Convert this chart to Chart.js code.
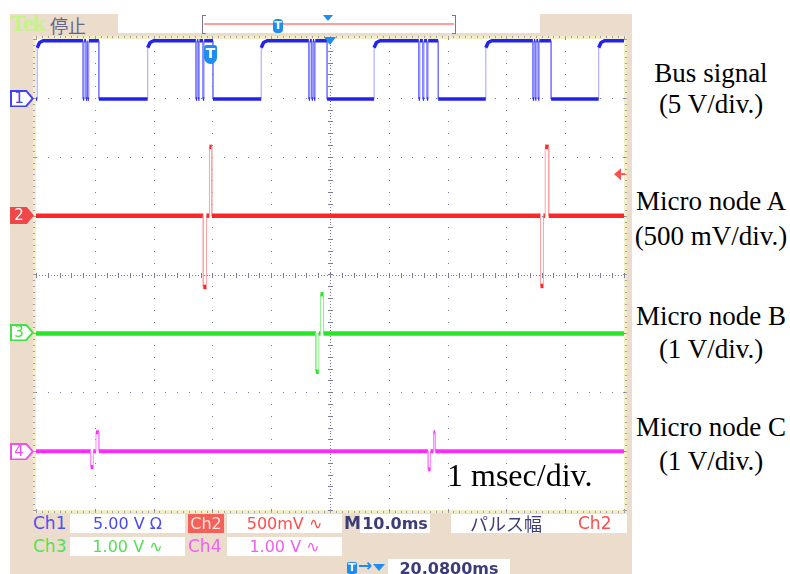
<!DOCTYPE html>
<html>
<head>
<meta charset="utf-8">
<script src="https://cdn.jsdelivr.net/npm/chart.js@4.4.1/dist/chart.umd.min.js"></script>
<style>
  body { margin: 0; width: 790px; height: 574px; background: #fff; position: relative; overflow: hidden; font-family: "DejaVu Sans", sans-serif; }
  .abs { position: absolute; }
  #frame { left: 10px; top: 14px; width: 622px; height: 560px; background: #ecdccb; }
  #tek { left: 10px; top: 10px; font: bold 24px "Liberation Serif", serif; color: #c4f28c; letter-spacing: -1px; }
  #stop { left: 50px; top: 12px; font: 18px "Noto Sans CJK JP", sans-serif; color: #66668a; }
  #topbox { left: 118px; top: 14px; width: 422px; height: 19px; background: #fff; }
  .br { top: 15px; width: 3px; height: 17px; border: 1px solid #77778a; }
  #brL { left: 202px; border-right: none; }
  #brR { left: 452px; border-left: none; }
  #trigLine { left: 204px; top: 23px; width: 250px; height: 2px; background: #ff9c9c; }
  .tmark { background: #1e8cf0; color: #fff; font: bold 11px "DejaVu Sans", sans-serif; text-align: center; }
  .tri { width: 0; height: 0; border-left: 5px solid transparent; border-right: 5px solid transparent; border-top: 6px solid #1e8cf0; }
  #scope { left: 33px; top: 36px; background: #fff; }
  .chm { position: absolute; left: 10px; width: 24px; height: 17px; clip-path: polygon(0 0, 70% 0, 100% 50%, 70% 100%, 0 100%); }
  .chm .in { position: absolute; left: 1.5px; top: 1.5px; width: 20px; height: 14px; background: #fff; clip-path: polygon(0 0, 70% 0, 100% 50%, 70% 100%, 0 100%); }
  .chm span { position: absolute; left: 0; top: 0; width: 18px; text-align: center; font: 15px/17px "DejaVu Sans", sans-serif; }
  .box { position: absolute; background: #fff; height: 19px; font: 16px/19px "DejaVu Sans", sans-serif; text-align: center; }
  .lab { position: absolute; font: 17px/19px "DejaVu Sans", sans-serif; }
  .note { position: absolute; left: 632px; width: 158px; text-align: center; font: 27px/30px "Liberation Serif", serif; color: #000; white-space: nowrap; }
</style>
</head>
<body>
<div id="frame" class="abs"></div>
<div id="tek" class="abs">Tek</div>
<div id="stop" class="abs">停止</div>
<div id="topbox" class="abs"></div>
<div id="brL" class="abs br"></div>
<div id="brR" class="abs br"></div>
<div id="trigLine" class="abs"></div>
<div class="abs tmark" style="left:273px;top:19px;width:10px;height:14px;line-height:14px;border-radius:4px;">T</div>
<div class="abs tri" style="left:323px;top:15px;"></div>

<canvas id="scope" class="abs" width="594" height="477"></canvas>
<div class="abs tmark" style="left:204px;top:45px;width:13px;height:19px;line-height:17px;font-size:14px;border-radius:3px 3px 7px 7px;">T</div>

<div class="chm" style="top:90px;background:#4040f0;"><div class="in"></div><span style="color:#4040f0;">1</span></div>
<div class="chm" style="top:207px;background:#f04848;"><span style="color:#fff;">2</span></div>
<div class="chm" style="top:324px;background:#44e044;"><div class="in"></div><span style="color:#44e044;">3</span></div>
<div class="chm" style="top:443px;background:#f050f0;"><div class="in"></div><span style="color:#f050f0;">4</span></div>

<div class="lab" style="left:33px;top:514px;color:#5050f0;">Ch1</div>
<div class="box" style="left:70px;top:514px;width:115px;color:#4a4af0;">5.00 V Ω</div>
<div class="box" style="left:188px;top:514px;width:36px;background:#f2625a;color:#ffe0da;">Ch2</div>
<div class="box" style="left:227px;top:514px;width:115px;color:#ff4c4c;">500mV ∿</div>
<div class="lab" style="left:344px;top:514px;color:#3c3c78;font-weight:bold;">M</div>
<div class="box" style="left:360px;top:514px;width:70px;color:#3c3c78;font-weight:bold;">10.0ms</div>
<div class="box" style="left:451px;top:514px;width:176px;"></div>
<div class="lab" style="left:470px;top:513px;color:#3c3c78;font:18px/20px 'Noto Sans CJK JP',sans-serif;">パルス幅</div>
<div class="lab" style="left:578px;top:514px;color:#ff4c4c;">Ch2</div>

<div class="lab" style="left:33px;top:537px;color:#55e055;">Ch3</div>
<div class="box" style="left:70px;top:537px;width:115px;color:#55e055;">1.00 V ∿</div>
<div class="lab" style="left:188px;top:537px;color:#f060f0;">Ch4</div>
<div class="box" style="left:227px;top:537px;width:115px;color:#f060f0;">1.00 V ∿</div>

<div class="abs tmark" style="left:347px;top:562px;width:10px;height:12px;line-height:12px;border-radius:2px;">T</div>
<div class="lab" style="left:358px;top:556px;color:#1e8cf0;font-weight:bold;">→</div>
<div class="abs tri" style="left:373px;top:564px;border-left-width:6px;border-right-width:6px;border-top-width:7px;"></div>
<div class="box" style="left:388px;top:559px;width:122px;height:15px;color:#3c3c78;font-weight:bold;">20.0800ms</div>

<div class="note" style="top:58px;">Bus signal</div>
<div class="note" style="top:89px;">(5 V/div.)</div>
<div class="note" style="top:186px;">Micro node A</div>
<div class="note" style="top:221px;">(500 mV/div.)</div>
<div class="note" style="top:301px;">Micro node B</div>
<div class="note" style="top:334px;">(1 V/div.)</div>
<div class="note" style="top:412px;">Micro node C</div>
<div class="note" style="top:446px;">(1 V/div.)</div>
<div class="abs" style="left:447px;top:458px;font:32px/34px 'Liberation Serif',serif;color:#000;white-space:nowrap;">1 msec/div.</div>

<script>
// time base 1 ms/div over 10 div, screen 8 div high
const xMin = 0, xMax = 10;
const yMin = -4, yMax = 4;

// channel settings: units per div and ground position in div
const chScale = [5, 500, 1, 1];   // V, mV, V, V
const chPos = [3, 1, -1, -3];

// Ch1 bus signal: edge times (ms) and levels (V)
const busRise = [0.02, 1.90, 3.83, 5.75, 7.65, 9.57];
const busFall = [1.07, 3.01, 4.95, 6.84, 8.76];
const busGlitch = [
  [0.80, 0.85, 0.88],
  [2.72, 2.76, 2.84],
  [4.64, 4.69, 4.73],
  [6.51, 6.58, 6.65],
  [8.45, 8.49, 8.54]
];
const busHigh = 4.85;
const busLow = -0.1;

// Ch2..Ch4 pulses: start, end (ms), peak (channel units)
const ch2Start = [2.845, 2.95, 8.58, 8.66];
const ch2End = [2.90, 2.99, 8.63, 8.72];
const ch2Peak = [-606, 584, -597, 584];
const ch3Start = [4.76, 4.84];
const ch3End = [4.81, 4.89];
const ch3Peak = [-0.65, 0.665];
const ch4Start = [0.93, 1.02, 6.67, 6.76];
const ch4End = [0.975, 1.07, 6.71, 6.79];
const ch4Peak = [-0.27, 0.32, -0.31, 0.32];

const trigTime = 5;      // trigger position marker (ms)
const trigLevel = 352;   // mV on Ch2

function toDiv(ch, v) {
  return chPos[ch] + v / chScale[ch];
}

function busTrace() {
  const pts = [{ x: xMin, y: toDiv(0, busLow) }];
  busRise.forEach((r, i) => {
    pts.push({ x: r, y: toDiv(0, busLow) }, { x: r, y: toDiv(0, busHigh - 0.6) },
             { x: r + 0.04, y: toDiv(0, busHigh - 0.15) }, { x: r + 0.1, y: toDiv(0, busHigh) });
    (busGlitch[i] || []).forEach(g => {
      pts.push({ x: g, y: toDiv(0, busHigh) }, { x: g, y: toDiv(0, busLow) },
               { x: g + 0.02, y: toDiv(0, busLow) }, { x: g + 0.02, y: toDiv(0, busHigh) });
    });
    if (busFall[i] !== undefined) {
      pts.push({ x: busFall[i], y: toDiv(0, busHigh) }, { x: busFall[i], y: toDiv(0, busLow) });
    }
  });
  pts.push({ x: xMax, y: toDiv(0, busHigh) });
  return pts;
}

function pulseTrace(ch, starts, ends, peaks) {
  const pts = [{ x: xMin, y: toDiv(ch, 0) }];
  starts.forEach((s, i) => {
    pts.push({ x: s, y: toDiv(ch, 0) }, { x: s, y: toDiv(ch, peaks[i]) },
             { x: ends[i], y: toDiv(ch, peaks[i]) }, { x: ends[i], y: toDiv(ch, 0) });
  });
  pts.push({ x: xMax, y: toDiv(ch, 0) });
  return pts;
}

// vertical edges are drawn thin and pale, like the scope's persistence
function edges(thin) {
  return {
    borderColor: c => c.p0.parsed.x === c.p1.parsed.x ? thin : undefined,
    borderWidth: c => c.p0.parsed.x === c.p1.parsed.x ? 1 : undefined
  };
}

function trace(data, color, thin, width) {
  return {
    data: data, borderColor: color, borderWidth: width, pointRadius: 0,
    tension: 0, borderJoinStyle: 'bevel', segment: edges(thin)
  };
}

const graticule = {
  id: 'graticule',
  beforeDatasetsDraw(chart) {
    const { ctx, scales: { x, y } } = chart;
    const W = chart.width, H = chart.height;
    ctx.save();
    // ruler band around the screen
    ctx.fillStyle = '#f2eec8';
    ctx.fillRect(0, 0, W, 3); ctx.fillRect(0, H - 3, W, 3);
    ctx.fillRect(0, 0, 3, H); ctx.fillRect(W - 3, 0, 3, H);
    ctx.fillStyle = '#a09cae';
    for (let t = xMin; t <= xMax + 1e-6; t += 0.1) {
      const px = Math.round(x.getPixelForValue(t));
      const len = Math.abs(t - Math.round(t)) < 1e-6 ? 4 : 2;
      ctx.fillRect(px, 0, 1, len); ctx.fillRect(px, H - len, 1, len);
    }
    for (let v = yMin; v <= yMax + 1e-6; v += 0.1) {
      const py = Math.round(y.getPixelForValue(v));
      const len = Math.abs(v - Math.round(v)) < 1e-6 ? 4 : 2;
      ctx.fillRect(0, py, len, 1); ctx.fillRect(W - len, py, len, 1);
    }
    // dotted division lines
    ctx.fillStyle = '#7c7c9c';
    for (let i = xMin + 1; i < xMax; i++) {
      const px = Math.round(x.getPixelForValue(i));
      for (let v = yMin; v <= yMax + 1e-6; v += 0.2) ctx.fillRect(px, Math.round(y.getPixelForValue(v)), 1, 1);
    }
    for (let j = yMin + 1; j < yMax; j++) {
      const py = Math.round(y.getPixelForValue(j));
      for (let t = xMin; t <= xMax + 1e-6; t += 0.2) ctx.fillRect(Math.round(x.getPixelForValue(t)), py, 1, 1);
    }
    // centre cross with minor ticks
    const cx = Math.round(x.getPixelForValue((xMin + xMax) / 2));
    const cy = Math.round(y.getPixelForValue(0));
    for (let v = yMin; v <= yMax + 1e-6; v += 0.05) ctx.fillRect(cx, Math.round(y.getPixelForValue(v)), 1, 1);
    for (let v = yMin; v <= yMax + 1e-6; v += 0.2) ctx.fillRect(cx - 2, Math.round(y.getPixelForValue(v)), 5, 1);
    for (let t = xMin; t <= xMax + 1e-6; t += 0.05) ctx.fillRect(Math.round(x.getPixelForValue(t)), cy, 1, 1);
    for (let t = xMin; t <= xMax + 1e-6; t += 0.2) ctx.fillRect(Math.round(x.getPixelForValue(t)), cy - 2, 1, 5);
    ctx.restore();
  },
  afterDatasetsDraw(chart) {
    const { ctx, scales: { x, y } } = chart;
    ctx.save();
    // trigger position
    const tx = x.getPixelForValue(trigTime);
    ctx.fillStyle = '#1e8cf0';
    ctx.beginPath();
    ctx.moveTo(tx - 6, 1); ctx.lineTo(tx + 6, 1); ctx.lineTo(tx, 9);
    ctx.fill();
    // trigger level on Ch2
    const ly = y.getPixelForValue(toDiv(1, trigLevel));
    const rx = x.getPixelForValue(xMax);
    ctx.fillStyle = '#ff5050';
    ctx.beginPath();
    ctx.moveTo(rx - 10, ly); ctx.lineTo(rx - 3, ly - 6); ctx.lineTo(rx - 3, ly + 6);
    ctx.fill();
    ctx.fillRect(rx - 4, ly - 1, 5, 2);
    ctx.restore();
  }
};

new Chart(document.getElementById('scope'), {
  type: 'line',
  data: {
    datasets: [
      trace(pulseTrace(3, ch4Start, ch4End, ch4Peak), '#ff2cff', '#ff8cff', 4),
      trace(pulseTrace(2, ch3Start, ch3End, ch3Peak), '#26e626', '#8cf08c', 4.5),
      trace(pulseTrace(1, ch2Start, ch2End, ch2Peak), '#ff2626', '#ffa4a4', 4.5),
      trace(busTrace(), '#2222f0', 'rgba(80,80,255,0.55)', 3.5)
    ]
  },
  options: {
    responsive: false,
    animation: false,
    devicePixelRatio: 1,
    layout: { padding: 3 },
    plugins: { legend: { display: false }, tooltip: { enabled: false } },
    scales: {
      x: { type: 'linear', min: xMin, max: xMax, display: false },
      y: { type: 'linear', min: yMin, max: yMax, display: false }
    }
  },
  plugins: [graticule]
});
</script>
</body>
</html>
